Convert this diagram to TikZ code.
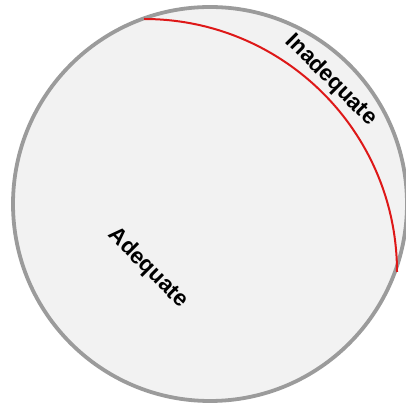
\documentclass[tikz,border=0pt]{standalone}
\usepackage{fontspec}
\setmainfont{Liberation Sans}
\definecolor{rimgrey}{RGB}{155,155,155}
\definecolor{discfill}{RGB}{242,242,242}
\definecolor{limitred}{RGB}{222,24,24}
\tikzset{
    region label/.style={font=\fontsize{22.5}{22.5}\selectfont\bfseries, rotate=-45, inner sep=0pt},
}
\begin{document}
\begin{tikzpicture}[x=1pt,y=1pt]
    \useasboundingbox (0,0) rectangle (405,409);

    % Disc
    \filldraw[fill=discfill, draw=rimgrey, line width=3.8pt] (210,205) circle (197);

    % Boundary arc
    \draw[limitred, line width=2pt] (144,390) arc[start angle=90, end angle=0, radius=253];

    % Labels
    \node[region label] (inadequate) at (331,329) {Inadequate};
    \node[region label] (adequate) at (148,141) {Adequate};
\end{tikzpicture}
\end{document}
